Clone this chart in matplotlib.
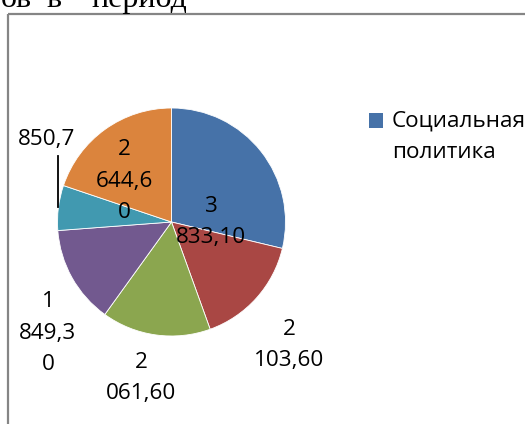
import matplotlib
matplotlib.use("Agg")
import matplotlib.pyplot as plt
from matplotlib.lines import Line2D
from matplotlib.patches import Rectangle

# ---- data ----
categories = ["Социальная политика", "Категория 2", "Категория 3",
              "Категория 4", "Категория 5", "Категория 6"]
values = [3833.10, 2103.60, 2061.60, 1849.30, 850.70, 2644.60]
labels = ["3\n833,10", "2\n103,60", "2\n061,60", "1\n849,3\n0", "850,7", "2\n644,6\n0"]
colors = ["#4672A8", "#A94744", "#8BA64F", "#72598F", "#4199B0", "#DB843D"]
legend_shown = ["Социальная\nполитика"]

W, H = 525, 424
fig = plt.figure(figsize=(W / 100, H / 100), dpi=100)
ax = fig.add_axes([0, 0, 1, 1])

def Y(py):
    return H - py

FONT = "Open Sans"
FS = 16.2
LS = 1.65

# pie
ax.pie(values, colors=colors, startangle=90, counterclock=False,
       center=(171.5, Y(222)), radius=114, frame=True,
       wedgeprops=dict(edgecolor="white", linewidth=0.6))
ax.set_xlim(0, W)
ax.set_ylim(0, H)
ax.axis("off")

# data labels (positions in pixels)
lab_pos = [(211, 222), (289, 345), (141, 378), (48, 333), (47, 140), (124, 181)]
for lab, pos in zip(labels, lab_pos):
    ax.text(pos[0], Y(pos[1]), lab, ha="center", va="center",
            fontsize=FS, family=FONT, linespacing=LS, color="black")

# leader line of the small slice label
ax.add_line(Line2D([58, 58], [Y(156), Y(207)], color="black", lw=1.3))

# legend
ax.add_patch(Rectangle((369, Y(128)), 14, 15, facecolor=colors[0], edgecolor="none"))
ax.text(392, Y(137), legend_shown[0], ha="left", va="center",
        fontsize=FS, family=FONT, linespacing=LS, color="black")

# chart frame (partially visible)
ax.add_line(Line2D([8, 8], [Y(14), 0], color="#858585", lw=1.6, solid_capstyle="butt"))
ax.add_line(Line2D([8, W], [Y(14), Y(14)], color="#858585", lw=1.6, solid_capstyle="butt"))

# surrounding document text (clipped at the top)
for txt, x in [("ов", 32), ("в", 62), ("период", 187)]:
    ax.text(x, Y(7), txt, ha="right", va="baseline", fontsize=23,
            family="Liberation Serif", color="black")

fig.savefig("out.png", dpi=100)
